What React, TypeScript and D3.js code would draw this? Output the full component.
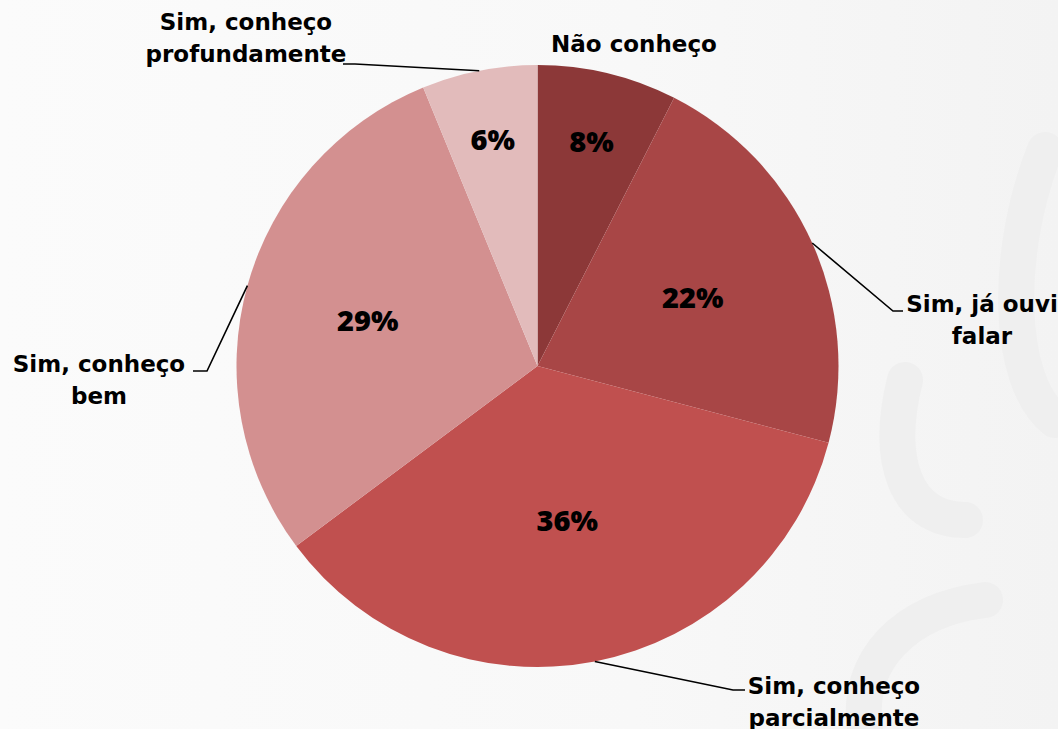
import React from "react";
import * as d3 from "d3";

const categories = [
  "Não conheço",
  "Sim, já ouvi falar",
  "Sim, conheço parcialmente",
  "Sim, conheço bem",
  "Sim, conheço profundamente",
];
const values = [7.5, 21.6, 35.7, 29.0, 6.2];
const percentLabels = ["8%", "22%", "36%", "29%", "6%"];
const labelLines = [
  ["Não conheço"],
  ["Sim, já ouvi", "falar"],
  ["Sim, conheço", "parcialmente"],
  ["Sim, conheço", "bem"],
  ["Sim, conheço", "profundamente"],
];
const colors = ["#8C3838", "#A84646", "#C0504F", "#D39090", "#E2BBBB"];

// layout
const W = 1058;
const H = 729;
const cx = 537.5;
const cy = 366;
const R = 301;
const pctRadius = [0.77, 0.565, 0.52, 0.585, 0.77];
const catLabelPos: [number, number][] = [
  [634, 52],
  [982, 312],
  [834, 694],
  [99, 372],
  [246, 30],
];
const leaderEnd: ([number, number][] | null)[] = [
  null,
  [[893, 311], [903, 311]],
  [[733, 690], [745, 690]],
  [[207, 371], [193, 371]],
  [[355, 64], [343, 64]],
];

export default function App() {
  const pie = d3.pie<number>().sort(null).value((d) => d);
  const arcs = pie(values);
  const arc = d3.arc<d3.PieArcDatum<number>>().innerRadius(0).outerRadius(R);
  const font = "'DejaVu Sans', 'Open Sans', sans-serif";
  const pctFont = "'Open Sans', 'DejaVu Sans', sans-serif";

  return (
    <svg
      width={W}
      height={H}
      style={{ position: "absolute", left: 0, top: 0, display: "block" }}
    >
      <defs>
        <linearGradient id="bg" x1="0" y1="0" x2="1" y2="0">
          <stop offset="0" stopColor="#fbfbfb" />
          <stop offset="0.6" stopColor="#f8f8f8" />
          <stop offset="1" stopColor="#f3f3f3" />
        </linearGradient>
      </defs>
      <rect x={0} y={0} width={W} height={H} fill="url(#bg)" />
      {/* faint watermark strokes */}
      <g fill="none" stroke="#efefef" strokeWidth={36} strokeLinecap="round">
        <path d="M 1045 150 C 1005 250, 1005 380, 1055 420" />
        <path d="M 905 380 C 885 460, 905 520, 965 520" />
        <path d="M 985 600 C 905 610, 855 660, 865 729" />
      </g>
      <g transform={`translate(${cx},${cy})`}>
        {arcs.map((a, i) => (
          <path key={categories[i]} d={arc(a) || ""} fill={colors[i]} />
        ))}
        {arcs.map((a, i) => {
          const mid = (a.startAngle + a.endAngle) / 2;
          const r = R * pctRadius[i];
          return (
            <text
              key={"p" + i}
              x={Math.sin(mid) * r}
              y={-Math.cos(mid) * r}
              textAnchor="middle"
              dominantBaseline="central"
              fontFamily={pctFont}
              fontWeight={800}
              fontSize={29}
              fill="#000"
            >
              {percentLabels[i]}
            </text>
          );
        })}
      </g>
      {arcs.map((a, i) => {
        const ends = leaderEnd[i];
        if (!ends) return null;
        const mid = (a.startAngle + a.endAngle) / 2;
        const sx = cx + Math.sin(mid) * R;
        const sy = cy - Math.cos(mid) * R;
        const pts: [number, number][] = [[sx, sy], ...ends];
        return (
          <path
            key={"l" + i}
            d={d3.line()(pts) || ""}
            fill="none"
            stroke="#000"
            strokeWidth={1.6}
          />
        );
      })}
      {labelLines.map((lines, i) => (
        <text
          key={"c" + i}
          x={catLabelPos[i][0]}
          y={catLabelPos[i][1]}
          textAnchor="middle"
          fontFamily={font}
          fontWeight={700}
          fontSize={23}
          fill="#000"
        >
          {lines.map((ln, j) => (
            <tspan key={j} x={catLabelPos[i][0]} dy={j === 0 ? 0 : 31.5}>
              {ln}
            </tspan>
          ))}
        </text>
      ))}
    </svg>
  );
}
